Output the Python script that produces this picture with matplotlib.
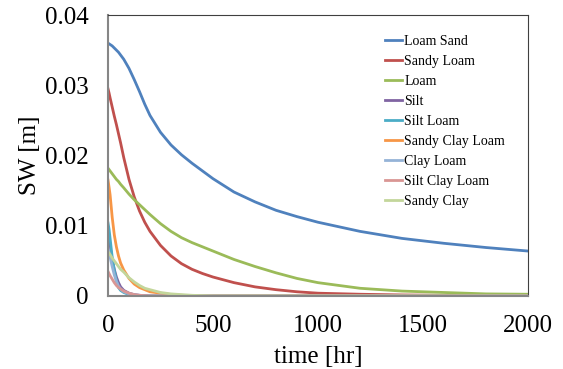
import matplotlib
matplotlib.use("Agg")
import matplotlib.pyplot as plt
import numpy as np

# time grid [hr] and SW values [m]
t_hr = [0, 5, 10, 20, 30, 40, 50, 60, 75, 100, 125, 150, 175, 200, 250, 300,
        350, 400, 450, 500, 600, 700, 800, 900, 1000, 1200, 1400, 1600, 1800, 2000]

loam_sand = [0.0360, 0.0359, 0.0358, 0.0356, 0.0353, 0.0350, 0.0347, 0.0343, 0.0337, 0.0324,
             0.0308, 0.0291, 0.0273, 0.0257, 0.0233, 0.0215, 0.0201, 0.0189, 0.0178, 0.0167,
             0.0148, 0.0134, 0.0122, 0.0113, 0.0105, 0.0092, 0.0082, 0.0075, 0.0069, 0.0064]
sandy_loam = [0.0295, 0.0289, 0.0282, 0.0269, 0.0256, 0.0244, 0.0231, 0.0218, 0.0197, 0.0166,
              0.0141, 0.0121, 0.0105, 0.0092, 0.0072, 0.0057, 0.0046, 0.0038, 0.0032, 0.0027,
              0.0019, 0.0013, 0.0009, 0.0006, 0.0004, 0.00025, 0.00015, 0.0001, 0.00005, 0.00003]
loam = [0.0182, 0.0180, 0.0178, 0.0174, 0.0170, 0.0166, 0.0163, 0.0159, 0.0154, 0.0145,
        0.0137, 0.0130, 0.0123, 0.0116, 0.0103, 0.0092, 0.0083, 0.0076, 0.0070, 0.0064,
        0.0052, 0.0042, 0.0033, 0.0025, 0.0019, 0.0011, 0.0007, 0.0005, 0.0003, 0.00025]
silt = [0.0090, 0.0080, 0.0070, 0.0052, 0.0038, 0.0027, 0.0019, 0.0013, 0.0008, 0.0004,
        0.0002, 0.0001, 0.00005, 0.0, 0.0, 0.0, 0.0, 0.0, 0.0, 0.0,
        0.0, 0.0, 0.0, 0.0, 0.0, 0.0, 0.0, 0.0, 0.0, 0.0]
silt_loam = [0.0104, 0.0095, 0.0082, 0.0055, 0.0036, 0.0022, 0.0012, 0.0008, 0.0005, 0.0002,
             0.0001, 0.00005, 0.0, 0.0, 0.0, 0.0, 0.0, 0.0, 0.0, 0.0,
             0.0, 0.0, 0.0, 0.0, 0.0, 0.0, 0.0, 0.0, 0.0, 0.0]
sandy_clay_loam = [0.0165, 0.0155, 0.0144, 0.0112, 0.0087, 0.0070, 0.0057, 0.0047, 0.0037, 0.0025,
                   0.0017, 0.0012, 0.0009, 0.0006, 0.0004, 0.0002, 0.0001, 0.00005, 0.0, 0.0,
                   0.0, 0.0, 0.0, 0.0, 0.0, 0.0, 0.0, 0.0, 0.0, 0.0]
clay_loam = [0.0068, 0.0062, 0.0055, 0.0042, 0.0030, 0.0021, 0.0014, 0.0010, 0.0006, 0.0003,
             0.00015, 0.0001, 0.0, 0.0, 0.0, 0.0, 0.0, 0.0, 0.0, 0.0,
             0.0, 0.0, 0.0, 0.0, 0.0, 0.0, 0.0, 0.0, 0.0, 0.0]
silt_clay_loam = [0.0035, 0.0032, 0.0029, 0.0024, 0.0019, 0.0015, 0.0012, 0.0010, 0.0007, 0.0004,
                  0.0002, 0.0001, 0.00005, 0.0, 0.0, 0.0, 0.0, 0.0, 0.0, 0.0,
                  0.0, 0.0, 0.0, 0.0, 0.0, 0.0, 0.0, 0.0, 0.0, 0.0]
sandy_clay = [0.0063, 0.0061, 0.0059, 0.0054, 0.0050, 0.0046, 0.0042, 0.0038, 0.0034, 0.0026,
              0.0020, 0.0015, 0.0011, 0.0009, 0.0005, 0.0003, 0.0002, 0.0001, 0.00005, 0.0,
              0.0, 0.0, 0.0, 0.0, 0.0, 0.0, 0.0, 0.0, 0.0, 0.0]

labels = ["Loam Sand", "Sandy Loam", "Loam", "Silt", "Silt Loam",
          "Sandy Clay Loam", "Clay Loam", "Silt Clay Loam", "Sandy Clay"]
series = [loam_sand, sandy_loam, loam, silt, silt_loam,
          sandy_clay_loam, clay_loam, silt_clay_loam, sandy_clay]
colors = ["#4F81BD", "#C0504D", "#9BBB59", "#8064A2", "#4BACC6",
          "#F79646", "#95B3D7", "#D99694", "#C3D69B"]

plt.rcParams["font.family"] = ["Liberation Serif", "DejaVu Serif"]

fig = plt.figure(figsize=(5.63, 3.69), dpi=100)
ax = fig.add_axes([108 / 563, 1 - 296 / 369, 420 / 563, 281 / 369])

for vals, lab, col in zip(series, labels, colors):
    ax.plot(t_hr, vals, color=col, lw=2.0, label=lab, solid_joinstyle="round")

ax.set_xlim(0, 2000)
ax.set_ylim(0, 0.04)
ax.set_xticks([0, 500, 1000, 1500, 2000])
ax.set_yticks([0, 0.01, 0.02, 0.03, 0.04])
ax.set_yticklabels(["0", "0.01", "0.02", "0.03", "0.04"])
ax.tick_params(length=0, labelsize=18)
ax.tick_params(axis="y", pad=14)
ax.tick_params(axis="x", pad=14)

for side in ["left", "bottom"]:
    ax.spines[side].set_color("#868686")
    ax.spines[side].set_linewidth(1.5)
for side in ["top", "right"]:
    ax.spines[side].set_color("#404040")
    ax.spines[side].set_linewidth(0.8)

ax.set_xlabel("time [hr]", fontsize=18, labelpad=6)
ax.set_ylabel("SW [m]", fontsize=18, labelpad=3)

ax.legend(loc="upper left", bbox_to_anchor=(385 / 563, 1 - 35 / 369),
          bbox_transform=fig.transFigure, frameon=False, fontsize=10,
          handlelength=1.2, handletextpad=0.2, labelspacing=0.5,
          borderaxespad=0, borderpad=0)

fig.savefig("out.png", dpi=100)
